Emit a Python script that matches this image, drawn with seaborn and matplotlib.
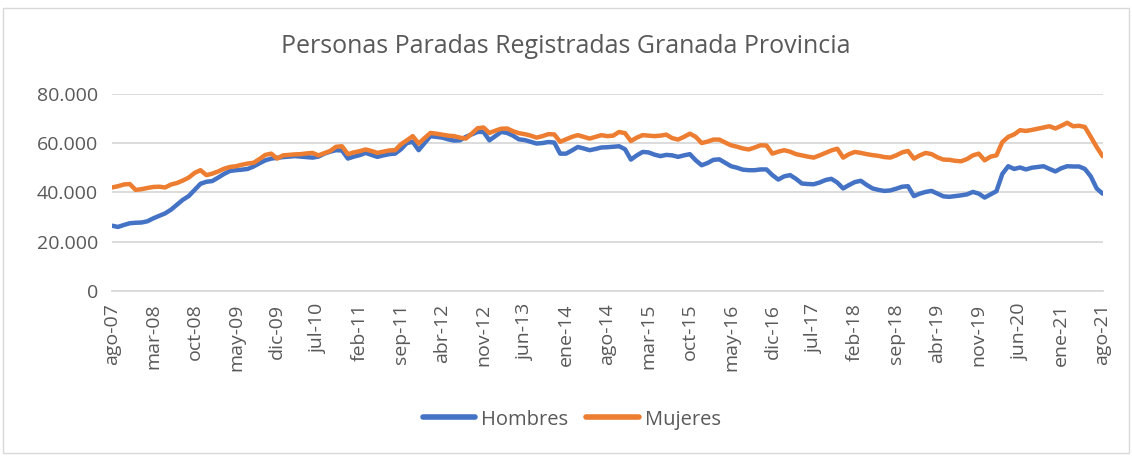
import numpy as np
import pandas as pd
import matplotlib
matplotlib.use("Agg")
import matplotlib.pyplot as plt
import seaborn as sns
from matplotlib.ticker import FuncFormatter
from matplotlib.patches import Rectangle

# ── Data (thousands of people, monthly from ago-07 to ago-21) ──
hombres = [
    26.5, 26.0, 26.8, 27.5, 27.7, 27.8, 28.3, 29.5, 30.5, 31.5, 33.0, 35.0,
    37.0, 38.5, 41.0, 43.5, 44.3, 44.6, 46.0, 47.5, 48.7, 49.0, 49.2, 49.5,
    50.5, 51.8, 53.0, 53.7, 54.0, 54.3, 54.5, 54.7, 54.5, 54.3, 54.1, 54.5,
    55.7, 56.5, 57.1, 57.0, 53.7, 54.5, 55.1, 56.0, 55.2, 54.4, 55.0, 55.5,
    55.7, 57.5, 60.0, 60.5, 57.1, 60.0, 62.8, 62.5, 62.2, 61.5, 61.0, 61.1,
    62.5, 63.5, 64.5, 64.5, 61.1, 62.8, 64.5, 64.1, 63.0, 61.5, 61.2, 60.5,
    59.8, 60.0, 60.4, 60.2, 55.7, 55.7, 57.0, 58.4, 57.8, 57.1, 57.6, 58.2,
    58.3, 58.5, 58.7, 57.5, 53.3, 55.0, 56.4, 56.2, 55.3, 54.7, 55.2, 55.0,
    54.4, 55.0, 55.5, 53.0, 51.0, 51.9, 53.2, 53.4, 52.0, 50.6, 50.0, 49.2,
    49.0, 49.0, 49.3, 49.3, 47.0, 45.2, 46.5, 47.0, 45.5, 43.6, 43.4, 43.3,
    44.0, 45.0, 45.5, 44.0, 41.6, 43.0, 44.2, 44.7, 43.0, 41.6, 41.0, 40.6,
    40.8, 41.5, 42.3, 42.5, 38.5, 39.5, 40.2, 40.6, 39.5, 38.4, 38.2, 38.5,
    38.8, 39.2, 40.2, 39.5, 37.9, 39.2, 40.5, 47.5, 50.6, 49.5, 50.1, 49.3,
    50.0, 50.3, 50.6, 49.5, 48.5, 49.8, 50.6, 50.5, 50.5, 49.5, 46.5, 41.6,
    39.5,
]
mujeres = [
    42.0, 42.5, 43.2, 43.4, 41.0, 41.3, 41.8, 42.2, 42.3, 42.0, 43.2, 43.8,
    44.8, 46.0, 47.9, 49.0, 47.0, 47.6, 48.5, 49.6, 50.3, 50.6, 51.2, 51.7,
    52.0, 53.5, 55.2, 55.7, 53.7, 55.0, 55.2, 55.4, 55.5, 55.8, 56.0, 55.0,
    55.9, 56.8, 58.5, 58.7, 55.5, 56.2, 56.7, 57.4, 56.8, 56.0, 56.5, 57.0,
    57.1, 59.5, 61.1, 62.8, 59.8, 62.0, 64.1, 63.8, 63.4, 63.0, 62.8, 62.2,
    61.8, 63.8, 66.0, 66.3, 64.1, 65.0, 65.8, 65.9, 64.8, 64.0, 63.6, 63.0,
    62.2, 62.8, 63.6, 63.5, 60.5, 61.5, 62.5, 63.2, 62.5, 61.8, 62.5, 63.2,
    62.8, 63.0, 64.5, 64.0, 60.8, 62.2, 63.2, 63.0, 62.8, 63.0, 63.4, 62.0,
    61.4, 62.5, 63.8, 62.5, 60.0, 60.6, 61.4, 61.4, 60.2, 59.1, 58.5, 57.8,
    57.4, 58.2, 59.1, 59.0, 55.7, 56.5, 57.1, 56.5, 55.5, 55.0, 54.5, 54.1,
    55.0, 56.0, 57.0, 57.7, 54.1, 55.5, 56.4, 56.0, 55.5, 55.1, 54.8, 54.3,
    54.1, 55.0, 56.2, 56.8, 53.7, 55.0, 56.0, 55.5, 54.2, 53.3, 53.2, 52.8,
    52.6, 53.5, 55.0, 55.7, 53.0, 54.5, 55.0, 60.4, 62.5, 63.5, 65.2, 64.9,
    65.3, 65.8, 66.3, 66.8, 65.9, 67.0, 68.2, 66.8, 67.0, 66.5, 62.5, 58.4,
    54.7,
]
tick_labels = ["ago-07", "mar-08", "oct-08", "may-09", "dic-09", "jul-10",
               "feb-11", "sep-11", "abr-12", "nov-12", "jun-13", "ene-14",
               "ago-14", "mar-15", "oct-15", "may-16", "dic-16", "jul-17",
               "feb-18", "sep-18", "abr-19", "nov-19", "jun-20", "ene-21",
               "ago-21"]
tick_step = 7

n = len(hombres)
df = pd.DataFrame({
    "mes": list(range(n)) * 2,
    "valor": [v * 1000 for v in hombres] + [v * 1000 for v in mujeres],
    "serie": ["Hombres"] * n + ["Mujeres"] * n,
})

# ── Style ──
sns.set_style("white")
plt.rcParams["font.family"] = ["Open Sans", "DejaVu Sans"]
gray = "#595959"

fig = plt.figure(figsize=(11.32, 4.57), dpi=100)
ax = fig.add_axes([0.099, 0.363, 0.875, 0.432])

sns.lineplot(data=df, x="mes", y="valor", hue="serie",
             palette=["#4472C4", "#ED7D31"], linewidth=3.2, ax=ax,
             legend=False)

ax.set_xlim(0, n - 1)
ax.set_ylim(0, 80000)
ax.set_yticks([0, 20000, 40000, 60000, 80000])
ax.yaxis.set_major_formatter(FuncFormatter(lambda v, p: f"{int(v):,}".replace(",", ".")))
ax.grid(axis="y", color="#d9d9d9", linewidth=1.3)
ax.set_axisbelow(True)

ax.set_xticks(range(0, n, tick_step))
ax.set_xticklabels(tick_labels, rotation=90)
ax.tick_params(axis="x", length=6, width=1, color="#d9d9d9",
               labelsize=14, labelcolor=gray, pad=3)
ax.tick_params(axis="y", length=0, labelsize=14, labelcolor=gray, pad=10)
for s in ["top", "right", "left"]:
    ax.spines[s].set_visible(False)
ax.spines["bottom"].set_color("#d9d9d9")
ax.spines["bottom"].set_linewidth(1.3)
ax.set_xlabel("")
ax.set_ylabel("")

fig.suptitle("Personas Paradas Registradas Granada Provincia",
             y=0.925, fontsize=18, color=gray)

handles = [plt.Line2D([], [], color="#4472C4", linewidth=4),
           plt.Line2D([], [], color="#ED7D31", linewidth=4)]
fig.legend(handles, ["Hombres", "Mujeres"], loc="center",
           bbox_to_anchor=(0.505, 0.082), ncol=2, frameon=False,
           fontsize=14.5, labelcolor=gray, handlelength=2.6,
           handletextpad=0.3, columnspacing=0.9)

fig.patches.append(Rectangle((0.003, 0.008), 0.994, 0.975,
                             transform=fig.transFigure, fill=False,
                             edgecolor="#d9d9d9", linewidth=1))

fig.savefig("out.png", dpi=100)
